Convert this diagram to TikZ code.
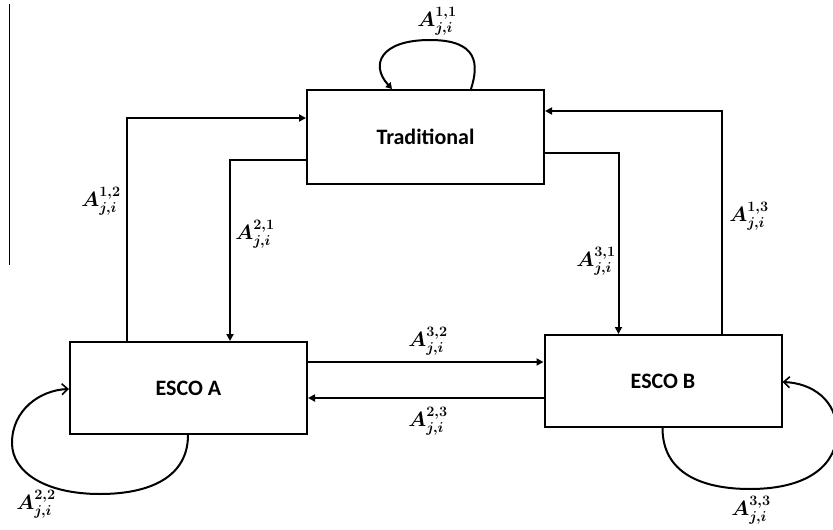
\documentclass[tikz,border=0pt]{standalone}
\usepackage{fontspec}
\usepackage{amsmath,bm}
\setmainfont{Carlito}
\usetikzlibrary{arrows.meta,calc}
\begin{document}
\begin{tikzpicture}[x=1pt,y=1pt,
  box/.style={draw,line width=2pt,minimum width=237pt,inner sep=0pt,font=\fontsize{22}{26}\selectfont\bfseries},
  conn/.style={line width=2pt,-{Triangle[length=7pt,width=7pt]}},
  loopc/.style={line width=2pt,-{Straight Barb[length=6pt,width=11pt,line width=1.6pt]}},
  lab/.style={inner sep=0pt,font=\fontsize{21}{24}\selectfont}]
\useasboundingbox (0,0) rectangle (833,-530);
\fill[white] (0,0) rectangle (833,-530);
\draw[line width=0.9pt] (9,-4) -- (9,-265);
\node[box,minimum height=94pt] (trad) at (425.5,-137) {Traditional};
\node[box,minimum height=92pt] (escoA) at (188.5,-388) {ESCO A};
\node[box,minimum height=92pt] (escoB) at (663,-381) {ESCO B};
% A12
\draw[conn] ([xshift=58pt]escoA.north west) |- ([yshift=-29pt]trad.north west);
% A21
\draw[conn] ([yshift=-71pt]trad.north west) -| ([xshift=161pt]escoA.north west);
% A31
\draw[conn] ([yshift=-64pt]trad.north east) -| ([xshift=75pt]escoB.north west);
% A13
\draw[conn] ([xshift=178pt]escoB.north west) |- ([yshift=-22pt]trad.north east);
% A32
\coordinate (a32) at ([yshift=-21pt]escoA.north east);
\draw[conn] (a32) -- (a32 -| escoB.west);
% A23
\coordinate (a23) at ([yshift=-64pt]escoB.north west);
\draw[conn] (a23) -- (a23 -| escoA.east);
% loops
\draw[line width=2pt,-{Triangle[length=6pt,width=7pt]}] ([xshift=165pt]trad.north west) .. controls +(8,25) and (478,-40) .. (430,-40) .. controls (380,-40) and (370,-65) .. ([xshift=86pt]trad.north west);
\draw[loopc] ([xshift=119pt]escoA.south west) .. controls +(0,-42) and (150,-494) .. (100,-494) .. controls (45,-494) and (12,-472) .. (12,-443) .. controls (12,-410) and (40,-390) .. ([yshift=-1pt]escoA.west);
\draw[loopc] ([xshift=119pt]escoB.south west) .. controls +(0,-44) and (700,-489) .. (750,-489) .. controls (812,-489) and (837,-462) .. (837,-432) .. controls (837,-400) and (812,-383) .. ([yshift=-1pt]escoB.east);
% labels
\node[lab] (l11) at (437,-21) {$\bm{A^{1,1}_{j,i}}$};
\node[lab] (l12) at (101,-201) {$\bm{A^{1,2}_{j,i}}$};
\node[lab] (l21) at (255,-234) {$\bm{A^{2,1}_{j,i}}$};
\node[lab] (l31) at (596,-261) {$\bm{A^{3,1}_{j,i}}$};
\node[lab] (l13) at (749,-216) {$\bm{A^{1,3}_{j,i}}$};
\node[lab] (l32) at (428,-341) {$\bm{A^{3,2}_{j,i}}$};
\node[lab] (l23) at (428,-421) {$\bm{A^{2,3}_{j,i}}$};
\node[lab] (l22) at (36,-504) {$\bm{A^{2,2}_{j,i}}$};
\node[lab] (l33) at (751,-510) {$\bm{A^{3,3}_{j,i}}$};
\end{tikzpicture}
\end{document}
